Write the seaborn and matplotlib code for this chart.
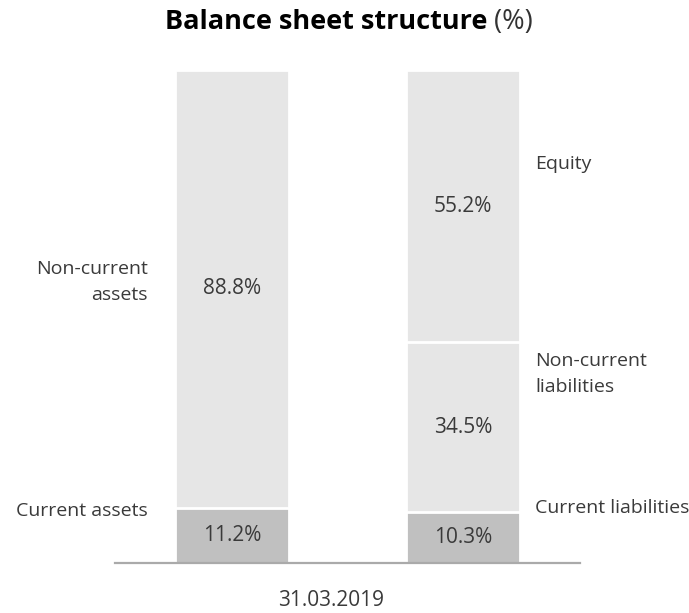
import matplotlib
matplotlib.use("Agg")
import matplotlib.pyplot as plt
import seaborn as sns
import pandas as pd
import numpy as np

# Data
date_label = "31.03.2019"
columns = ["Assets", "Liabilities"]
assets_segments = ["Current assets", "Non-current assets"]
assets_values = [11.2, 88.8]
liab_segments = ["Current liabilities", "Non-current liabilities", "Equity"]
liab_values = [10.3, 34.5, 55.2]

LIGHT = "#e6e6e6"
DARK = "#c0c0c0"
TXT = "#3a3a3a"

sns.set_theme(style="white")
plt.rcParams["font.family"] = ["Open Sans", "DejaVu Sans"]

fig = plt.figure(figsize=(6.89, 6.13), dpi=100)
ax = fig.add_axes([115 / 689, 50 / 613, 465 / 689, 493 / 613])

width = 0.494

def draw_stack(col, values, colors):
    cum = np.cumsum(values)
    for i in range(len(values) - 1, -1, -1):
        df = pd.DataFrame({"col": [col], "val": [cum[i]]})
        sns.barplot(data=df, x="col", y="val", order=columns, color=colors[i],
                    saturation=1, width=width, edgecolor="white", linewidth=2,
                    ax=ax, errorbar=None)
    xi = columns.index(col)
    starts = cum - np.array(values)
    for v, s in zip(values, starts):
        ax.text(xi, s + v / 2, f"{v:.1f}%", ha="center", va="center",
                fontsize=15, color=TXT)

draw_stack("Assets", assets_values, [DARK, LIGHT])
draw_stack("Liabilities", liab_values, [DARK, LIGHT, LIGHT])

ax.set_xlim(-0.506, 1.506)
ax.set_ylim(0, 100)
ax.set_xlabel("")
ax.set_ylabel("")
ax.set_xticks([])
ax.set_yticks([])
for s in ["top", "left", "right"]:
    ax.spines[s].set_visible(False)
ax.spines["bottom"].set_color("#aaaaaa")
ax.spines["bottom"].set_linewidth(1.6)

lx = -0.363
rx = 1.312
fs = 14
ax.text(lx, 57.0, "Non-current\nassets", ha="right", va="center", fontsize=fs,
        color=TXT, linespacing=1.6)
ax.text(lx, 10.6, assets_segments[0], ha="right", va="center", fontsize=fs, color=TXT)
ax.text(rx, 80.9, liab_segments[2], ha="left", va="center", fontsize=fs, color=TXT)
ax.text(rx, 38.3, "Non-current\nliabilities", ha="left", va="center", fontsize=fs,
        color=TXT, linespacing=1.6)
ax.text(rx, 11.2, liab_segments[0], ha="left", va="center", fontsize=fs, color=TXT)

fig.text(331 / 689, 1 - 601 / 613, date_label, ha="center", va="center",
         fontsize=15, color=TXT)

# Title: bold part + regular part, centered together
ty = 1 - 22 / 613
t1 = fig.text(0, ty, "Balance sheet structure", ha="left", va="center",
              fontsize=19.5, fontweight="bold", color="black")
t2 = fig.text(0, ty, " (%)", ha="left", va="center", fontsize=19.5,
              color="#333333")
fig.canvas.draw()
r = fig.canvas.get_renderer()
w1 = t1.get_window_extent(r).width
w2 = t2.get_window_extent(r).width
W = fig.bbox.width
x0 = (349 - (w1 + w2) / 2) / W
t1.set_x(x0)
t2.set_x(x0 + w1 / W)

fig.savefig("out.png", dpi=100)
